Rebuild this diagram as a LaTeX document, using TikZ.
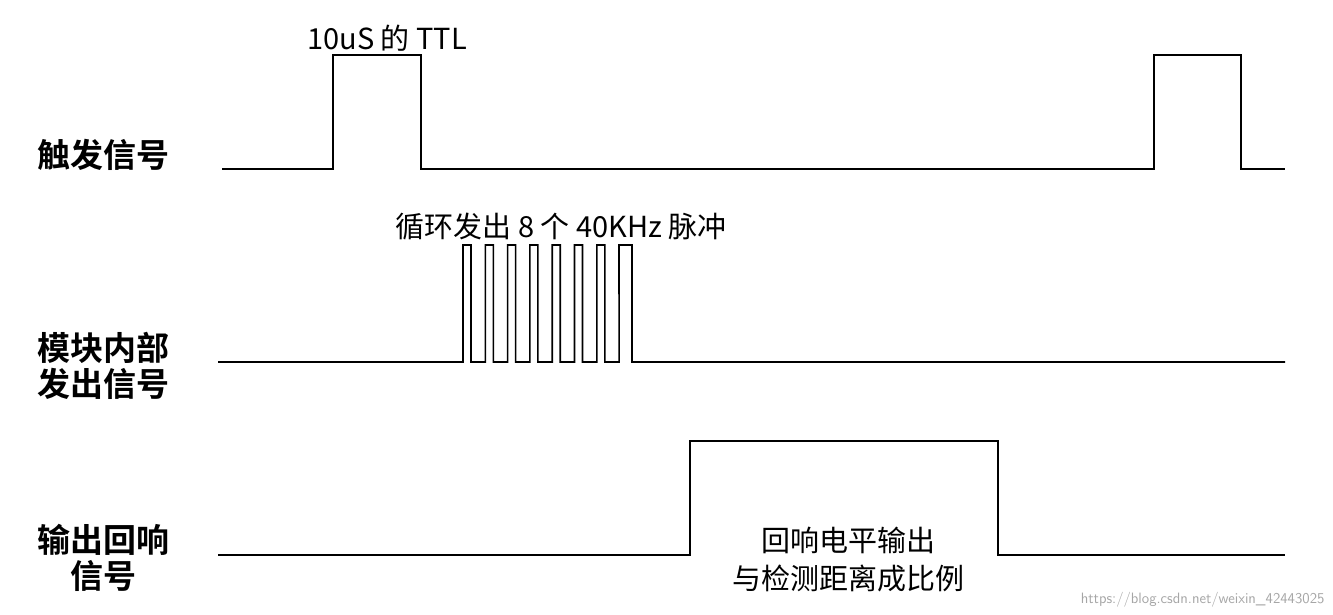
\documentclass[tikz,border=0pt]{standalone}
\usepackage{fontspec}
\newfontfamily\cjk{Noto Sans CJK SC}
\newfontfamily\cjkb{Noto Sans CJK SC Bold}
\begin{document}
\begin{tikzpicture}[x=1pt,y=-1pt,
  sig/.style={line width=1.6pt,line join=miter},
  lab/.style={font=\cjkb\fontsize{33}{36}\selectfont,align=center,inner sep=0pt},
  ann/.style={font=\cjk\fontsize{29}{38}\selectfont,align=center,inner sep=0pt}]
\useasboundingbox[fill=white] (0,0) rectangle (1333,615);
% trigger
\draw[sig] (222,169) -- (333,169) -- (333,55) -- (421,55) -- (421,169) -- (1154,169) -- (1154,55) -- (1241,55) -- (1241,169) -- (1285,169);
\node[ann] (t1) at (387,38) {10uS 的 TTL};
\node[lab] (l1) at (103,155) {触发信号};
% burst
\draw[sig] (218,362) -- (463,362)
  \foreach \k in {0,...,6} { -- ({463+22.3*\k},245) -- ({471+22.3*\k},245) -- ({471+22.3*\k},362) -- ({485.3+22.3*\k},362) }
  -- (619,245) -- (632,245) -- (632,362) -- (1285,362);
\node[ann] (t2) at (561,227) {循环发出 8 个 40KHz 脉冲};
\node[lab] (l2) at (103,366) {模块内部\\发出信号};
% echo
\draw[sig] (218,555) -- (690,555) -- (690,441) -- (998,441) -- (998,555) -- (1285,555);
\node[ann] (t3) at (848,560) {回响电平输出\\与检测距离成比例};
\node[lab] (l3) at (103,558) {输出回响\\信号};
\node[font=\fontsize{15}{18}\selectfont\sffamily,text=gray!70,anchor=east] (wm) at (1328,600) {https://blog.csdn.net/weixin\_42443025};
\end{tikzpicture}
\end{document}
